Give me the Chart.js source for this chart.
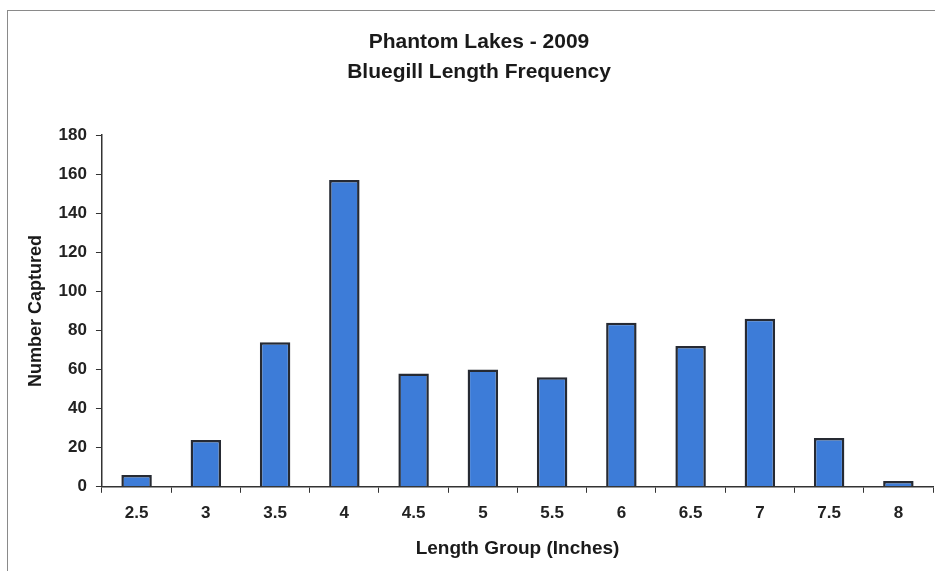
<!DOCTYPE html>
<html>
<head>
<meta charset="utf-8">
<script src="https://cdn.jsdelivr.net/npm/chart.js@4"></script>
<style>
  html, body { margin: 0; padding: 0; background: #fff; }
  #wrap { position: relative; width: 935px; height: 571px; overflow: hidden; }
  #frame { position: absolute; left: 7px; top: 10px; width: 1000px; height: 700px; border: 1.5px solid #8a8a8a; box-sizing: border-box; }
  canvas { position: absolute; left: 0; top: 0; }
</style>
</head>
<body>
<div id="wrap">
  <div id="frame"></div>
  <canvas id="chart" width="935" height="571"></canvas>
</div>
<script>
  // Length groups (inches) and fish counts
  const lengthGroups = ['2.5', '3', '3.5', '4', '4.5', '5', '5.5', '6', '6.5', '7', '7.5', '8'];
  const numberCaptured = [6, 24, 74, 157, 58, 60, 56, 84, 72, 86, 25, 3];
  const yTicks = [0, 20, 40, 60, 80, 100, 120, 140, 160, 180];

  const fontFamily = '"Liberation Sans", Arial, sans-serif';

  const ctx = document.getElementById('chart');
  new Chart(ctx, {
    type: 'bar',
    data: {
      labels: lengthGroups,
      datasets: [{
        data: numberCaptured,
        backgroundColor: '#3d7cd8',
        borderColor: '#262a33',
        borderWidth: 2.5,
        barPercentage: 0.44,
        categoryPercentage: 1
      }]
    },
    options: {
      responsive: false,
      animation: false,
      layout: {
        padding: { left: 25, right: 2, top: 27, bottom: 11 }
      },
      plugins: {
        legend: { display: false },
        tooltip: { enabled: false },
        title: {
          display: true,
          text: ['Phantom Lakes - 2009', 'Bluegill Length Frequency'],
          color: '#1a1a1a',
          font: { family: fontFamily, size: 21, weight: 'bold', lineHeight: 1.43 },
          padding: { top: 0, bottom: 48 }
        }
      },
      scales: {
        x: {
          grid: {
            offset: true,
            drawOnChartArea: false,
            drawTicks: true,
            tickLength: 6,
            color: '#333'
          },
          border: { color: '#333', width: 1.5 },
          ticks: {
            color: '#222',
            padding: 10,
            font: { family: fontFamily, size: 17, weight: 'bold' }
          },
          title: {
            display: true,
            text: 'Length Group (Inches)',
            color: '#1a1a1a',
            font: { family: fontFamily, size: 19, weight: 'bold' },
            padding: { top: 4, bottom: 0 }
          }
        },
        y: {
          min: 0,
          max: 180,
          afterBuildTicks: function (axis) {
            axis.ticks = yTicks.map(v => ({ value: v }));
          },
          grid: {
            drawOnChartArea: false,
            drawTicks: true,
            tickLength: 6,
            color: '#333'
          },
          border: { color: '#333', width: 1.5 },
          ticks: {
            color: '#222',
            padding: 9,
            font: { family: fontFamily, size: 17, weight: 'bold' }
          },
          title: {
            display: true,
            text: 'Number Captured',
            color: '#1a1a1a',
            font: { family: fontFamily, size: 18, weight: 'bold' },
            padding: { top: 0, bottom: 3 }
          }
        }
      }
    }
  });
</script>
</body>
</html>
